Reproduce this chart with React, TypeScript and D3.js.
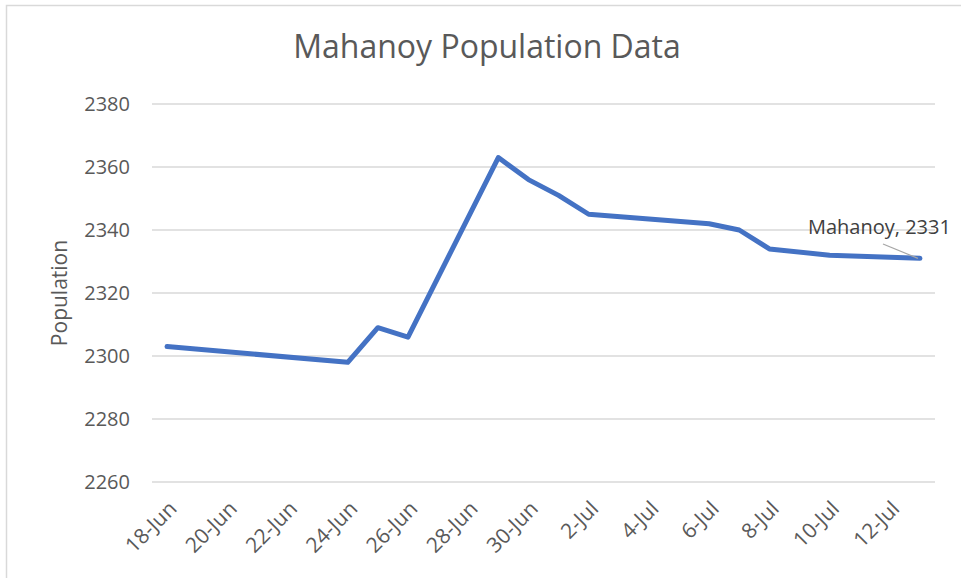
import React, { useEffect, useRef } from 'react';
import * as d3 from 'd3';

const title = 'Mahanoy Population Data';
const yLabel = 'Population';
const seriesName = 'Mahanoy';

const dates = [
  '2020-06-18', '2020-06-24', '2020-06-25', '2020-06-26', '2020-06-29',
  '2020-06-30', '2020-07-01', '2020-07-02', '2020-07-06', '2020-07-07',
  '2020-07-08', '2020-07-10', '2020-07-13'
];
const population = [2303, 2298, 2309, 2306, 2363, 2356, 2351, 2345, 2342, 2340, 2334, 2332, 2331];
const yTicks = [2260, 2280, 2300, 2320, 2340, 2360, 2380];
const xTickDates = [
  '2020-06-18', '2020-06-20', '2020-06-22', '2020-06-24', '2020-06-26', '2020-06-28',
  '2020-06-30', '2020-07-02', '2020-07-04', '2020-07-06', '2020-07-08', '2020-07-10', '2020-07-12'
];

const App = () => {
  const ref = useRef<SVGSVGElement>(null);

  useEffect(() => {
    const width = 961;
    const height = 578;
    const font = '"Open Sans", sans-serif';
    const parse = d3.utcParse('%Y-%m-%d');
    const fmt = d3.utcFormat('%-d-%b');
    const data = dates.map((d, i) => ({ date: parse(d) as Date, value: population[i] }));

    const svg = d3.select(ref.current);
    svg.selectAll('*').remove();

    svg.append('rect')
      .attr('x', 6.5).attr('y', 5.5)
      .attr('width', width + 20).attr('height', height + 20)
      .attr('fill', '#fff')
      .attr('stroke', '#d9d9d9').attr('stroke-width', 1.5);

    // half a day of padding on each side, like Excel date axis
    const first = d3.utcHour.offset(parse(dates[0]) as Date, -12);
    const last = d3.utcHour.offset(parse(dates[dates.length - 1]) as Date, 12);
    const x = d3.scaleUtc().domain([first, last]).range([152, 935]);
    const y = d3.scaleLinear().domain([2260, 2380]).range([482, 104]);

    svg.append('text')
      .attr('x', 487).attr('y', 58)
      .attr('text-anchor', 'middle')
      .attr('font-family', font).attr('font-size', 32)
      .attr('fill', '#595959')
      .text(title);

    const grid = svg.append('g');
    grid.selectAll('line')
      .data(yTicks)
      .enter()
      .append('line')
      .attr('x1', 152).attr('x2', 935)
      .attr('y1', d => y(d)).attr('y2', d => y(d))
      .attr('stroke', '#d9d9d9').attr('stroke-width', 1.5);

    svg.append('g').selectAll('text')
      .data(yTicks)
      .enter()
      .append('text')
      .attr('x', 130).attr('y', d => y(d))
      .attr('dy', '0.36em')
      .attr('text-anchor', 'end')
      .attr('font-family', font).attr('font-size', 20)
      .attr('fill', '#595959')
      .text(d => d);

    svg.append('text')
      .attr('transform', 'translate(67,293) rotate(-90)')
      .attr('text-anchor', 'middle')
      .attr('font-family', font).attr('font-size', 21)
      .attr('fill', '#595959')
      .text(yLabel);

    svg.append('g').selectAll('text')
      .data(xTickDates.map(d => parse(d) as Date))
      .enter()
      .append('text')
      .attr('transform', d => `translate(${x(d) + 11},510) rotate(-45)`)
      .attr('text-anchor', 'end')
      .attr('font-family', font).attr('font-size', 21)
      .attr('fill', '#595959')
      .text(d => fmt(d));

    const line = d3.line<{ date: Date; value: number }>()
      .x(d => x(d.date))
      .y(d => y(d.value));

    svg.append('path')
      .datum(data)
      .attr('d', line)
      .attr('fill', 'none')
      .attr('stroke', '#4472c4')
      .attr('stroke-width', 5)
      .attr('stroke-linejoin', 'round')
      .attr('stroke-linecap', 'round');

    const end = data[data.length - 1];
    svg.append('line')
      .attr('x1', 883).attr('y1', 244)
      .attr('x2', x(end.date) - 2).attr('y2', y(end.value))
      .attr('stroke', '#a6a6a6').attr('stroke-width', 1.2);

    svg.append('text')
      .attr('x', 808).attr('y', 234)
      .attr('font-family', font).attr('font-size', 20)
      .attr('fill', '#404040')
      .text(`${seriesName}, ${end.value}`);
  }, []);

  return (
    <svg
      ref={ref}
      width={961}
      height={578}
      style={{ position: 'absolute', left: 0, top: 0, background: '#fff' }}
    />
  );
};

export default App;
